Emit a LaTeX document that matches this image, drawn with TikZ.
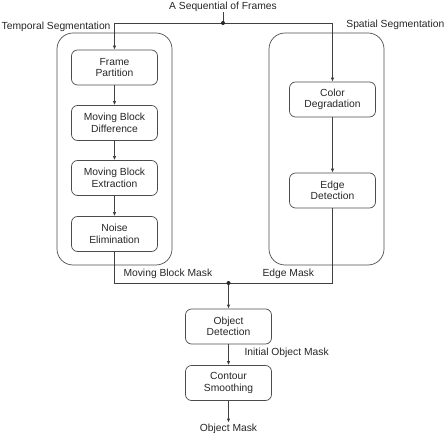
\documentclass[tikz,border=0pt]{standalone}
\usepackage{fontspec}
\setmainfont{Liberation Sans}
\usetikzlibrary{arrows.meta}
\tikzset{
    >={Latex[length=4pt,width=3.4pt]},
    every node/.style={font=\fontsize{10.3}{11.5}\selectfont, text=black!85},
    stepbox/.style={draw=black!70, line width=0.7pt, rounded corners=6pt,
        minimum width=86pt, minimum height=35pt, align=center, inner sep=1pt},
    groupbox/.style={draw=black!70, line width=0.7pt, rounded corners=16pt,
        minimum width=115pt, minimum height=232pt},
    wire/.style={draw=black!75, line width=0.7pt}
}
\begin{document}
\begin{tikzpicture}[x=1pt, y=1pt]
            % 视频对象分割流程
            \useasboundingbox (0, 0) rectangle (446, -435);

            \coordinate (J1) at (223, -23);
            \coordinate (J2) at (228.5, -283);

            \node[groupbox] (temporal) at (114.5, -149) {};
            \node[groupbox] (spatial) at (326.5, -149) {};

            \node[stepbox] (partition) at (114.5, -67.5) {Frame\\Partition};
            \node[stepbox] (difference) at (114.5, -123) {Moving Block\\Difference};
            \node[stepbox] (extraction) at (114.5, -178) {Moving Block\\Extraction};
            \node[stepbox] (noise) at (114.5, -234) {Noise\\Elimination};

            \node[stepbox] (color) at (332.5, -99.5) {Color\\Degradation};
            \node[stepbox] (edge) at (332.5, -190.5) {Edge\\Detection};

            \node[stepbox] (object) at (228.5, -326.5) {Object\\Detection};
            \node[stepbox] (contour) at (228.5, -383) {Contour\\Smoothing};

            \node[anchor=north, inner sep=1pt] (frames) at (223, -0.5) {A Sequential of Frames};
            \node[anchor=south, inner sep=1pt] (mask) at (228.5, -434.5) {Object Mask};

            \node[anchor=west, inner sep=1pt] (templabel) at (0.5, -27) {Temporal Segmentation};
            \node[anchor=east, inner sep=1pt] (spatlabel) at (445.5, -25) {Spatial Segmentation};
            \node[anchor=west] (mbmask) at (120, -274) {Moving Block Mask};
            \node[anchor=west] (emask) at (259, -274) {Edge Mask};
            \node[anchor=west] (initmask) at (241, -353) {Initial Object Mask};

            \draw[wire] (frames) -- (J1);
            \draw[wire, ->] (J1) -| (partition.north);
            \draw[wire, ->] (J1) -| (color.north);

            \draw[wire, ->] (partition) -- (difference);
            \draw[wire, ->] (difference) -- (extraction);
            \draw[wire, ->] (extraction) -- (noise);
            \draw[wire, ->] (color) -- (edge);

            \draw[wire] (noise.south) |- (J2);
            \draw[wire] (edge.south) |- (J2);
            \draw[wire, ->] (J2) -- (object);
            \draw[wire, ->] (object) -- (contour);
            \draw[wire, ->] (contour) -- (mask);

            \fill[black!85] (J1) circle (2pt);
            \fill[black!85] (J2) circle (2pt);
        \end{tikzpicture}
\end{document}
